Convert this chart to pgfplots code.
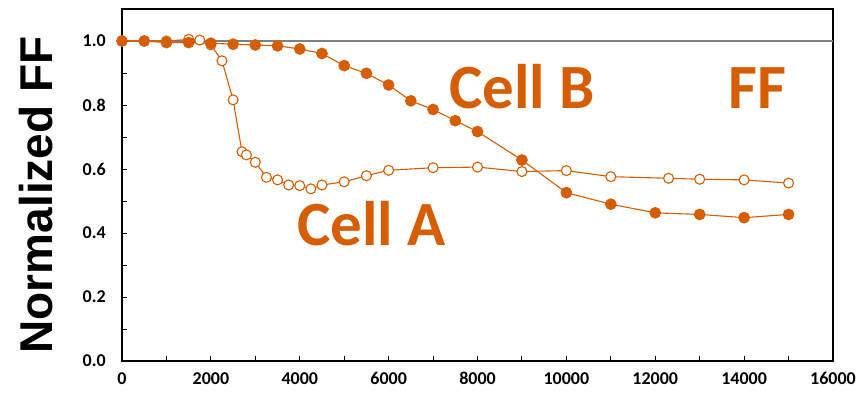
\documentclass[border=0pt]{standalone}
\usepackage{pgfplots}
\pgfplotsset{compat=1.18}
\usepackage{fontspec}
\setmainfont{Carlito}
\newfontfamily\arialfont{Liberation Sans}
\definecolor{orng}{RGB}{213,94,4}
\begin{document}
\begin{tikzpicture}
\begin{axis}[
  scale only axis,
  width=711pt, height=352pt,
  xmin=0, xmax=16000, ymin=0, ymax=1.1,
  axis line style={black, line width=1.1pt},
  xtick={0,2000,...,16000},
  minor xtick={1000,3000,...,15000},
  ytick={0,0.2,...,1.0},
  minor ytick={0.1,0.3,...,0.9},
  scaled x ticks=false,
  tick align=inside,
  major tick length=5pt, minor tick length=5pt,
  tick style={black, line width=0.9pt},
  xtick pos=bottom, ytick pos=left,
  /pgf/number format/assume math mode=true,
  x tick label style={/pgf/number format/1000 sep={}, font=\fontsize{18}{20}\selectfont\bfseries, anchor=north, inner sep=0pt, yshift=-11pt},
  y tick label style={/pgf/number format/fixed, /pgf/number format/fixed zerofill, /pgf/number format/precision=1, font=\fontsize{18}{20}\selectfont\bfseries, anchor=east, inner sep=0pt, xshift=-16pt},
  clip=false,
]
\addplot[gray, line width=1.4pt, forget plot] coordinates {(0,1) (16000,1)};
\addplot[orng, line width=1.1pt, mark=*, mark size=5pt, mark options={fill=white, draw=orng, line width=1.1pt}] coordinates {
(0,1.0) (500,1.0) (1000,1.0) (1500,1.005) (1750,1.003) (2000,0.988) (2250,0.938) (2500,0.816) (2700,0.654) (2800,0.644) (3000,0.621) (3250,0.574) (3500,0.566) (3750,0.550) (4000,0.548) (4250,0.538) (4500,0.550) (5000,0.560) (5500,0.579) (6000,0.596) (7000,0.604) (8000,0.606) (9000,0.592) (10000,0.595) (11000,0.576) (12300,0.571) (13000,0.568) (14000,0.566) (15000,0.556)
};
\addplot[orng, line width=1.1pt, mark=*, mark size=5.3pt, mark options={fill=orng, draw=orng}] coordinates {
(0,1.0) (500,1.0) (1000,0.995) (1500,0.995) (2000,0.993) (2500,0.99) (3000,0.9875) (3500,0.985) (4000,0.975) (4500,0.961) (5000,0.923) (5500,0.899) (6000,0.8625) (6500,0.813) (7000,0.786) (7500,0.751) (8000,0.717) (9000,0.628) (10000,0.526) (11000,0.49) (12000,0.463) (13000,0.458) (14000,0.448) (15000,0.458)
};
\node[anchor=base, text=orng, inner sep=0pt, font=\fontsize{63}{70}\selectfont\bfseries] at (axis cs:9000,0.79) {Cell B};
\node[anchor=base, text=orng, inner sep=0pt, font=\fontsize{63}{70}\selectfont\bfseries] at (axis cs:14300,0.79) {FF};
\node[anchor=base, text=orng, inner sep=0pt, font=\fontsize{63}{70}\selectfont\bfseries] at (axis cs:5610,0.3625) {Cell A};
\node[rotate=90, inner sep=0pt, font=\arialfont\fontsize{46}{50}\selectfont\bfseries] at (rel axis cs:-0.121,0.472) {Normalized FF};
\end{axis}
\pgfresetboundingbox
\path[use as bounding box] (-122pt,-33pt) rectangle (734pt,361pt);
\end{tikzpicture}
\end{document}
